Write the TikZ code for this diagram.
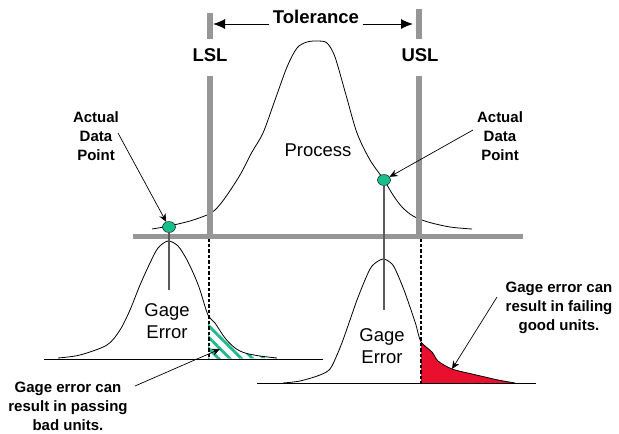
\documentclass[tikz,border=0pt]{standalone}
\usepackage{fontspec}
\setmainfont{Liberation Sans}
\usetikzlibrary{arrows.meta,shapes.geometric,patterns.meta}
\definecolor{bargray}{RGB}{150,150,150}
\definecolor{dotgreen}{RGB}{24,190,140}
\definecolor{hatchgreen}{RGB}{30,185,140}
\definecolor{badred}{RGB}{232,16,45}
\definecolor{stemgray}{RGB}{90,90,90}
\tikzset{
  grayBar/.style={draw=bargray,line width=6.5pt},
  curveLine/.style={draw=black,line width=0.8pt},
  baseLine/.style={draw=black,line width=0.9pt},
  dashLine/.style={draw=black,line width=1.1pt,dash pattern=on 3.5pt off 2pt},
  stemLine/.style={draw=stemgray,line width=1.4pt},
  dataDot/.style={ellipse,fill=dotgreen,draw=black,line width=0.4pt,minimum width=13pt,minimum height=11pt,inner sep=0pt},
  bigLabel/.style={font=\fontsize{18.5}{22}\selectfont\bfseries},
  plainLabel/.style={font=\fontsize{18.5}{22}\selectfont,align=center},
  noteLabel/.style={font=\fontsize{15}{19}\selectfont\bfseries,align=center},
  tolArrow/.style={draw=black,line width=1pt,-{Latex[length=12pt,width=10pt]}},
  noteArrow/.style={draw=black,line width=0.7pt,-{Stealth[length=8pt,width=7pt]}}
}
\begin{document}
\begin{tikzpicture}[x=1pt,y=-1pt]
\useasboundingbox[fill=white] (0,0) rectangle (619,434);

% fills
\fill[pattern={Lines[angle=-45,distance=8pt,line width=2.8pt]},pattern color=hatchgreen]
  (208,359) -- plot[smooth] coordinates {(208,315) (215,323) (225,338) (235,348) (245,353) (260,356) (277,358)} -- cycle;
\fill[badred]
  (421,383) -- plot[smooth] coordinates {(421,342) (432,352) (438,361) (452,369) (472,374) (485,377) (498,380) (515,383)} -- cycle;

% process curve
\draw[curveLine] plot[smooth] coordinates {(152,229) (169,226) (190,221) (207,215) (215,210) (225,198) (240,175) (252,152) (263,133) (275,100) (287,67) (297,48) (307,42) (318,41) (327,43) (335,57) (346,95) (357,133) (370,160) (384,180) (393,195) (402,207) (413,216) (428,222) (450,227) (472,229)};

% gage curves
\draw[curveLine] plot[smooth] coordinates {(58,358) (80,355) (107,345) (120,330) (130,310) (140,285) (150,263) (158,248) (168,241) (178,246) (187,260) (195,277) (200,290) (208,315) (215,323) (225,338) (235,348) (245,353) (260,356) (277,358)};
\draw[curveLine] plot[smooth] coordinates {(283,383) (300,381) (320,375) (330,369) (337,355) (343,340) (350,320) (357,300) (365,280) (372,266) (383,259) (392,264) (397,273) (404,290) (410,307) (416,325) (421,342) (432,352) (438,361) (452,369) (472,374) (485,377) (498,380) (515,383)};

% baselines
\coordinate (lb1) at (44,359); \coordinate (lb2) at (323,359);
\coordinate (rb1) at (257,383); \coordinate (rb2) at (536,383);
\draw[baseLine] (lb1) -- (lb2);
\draw[baseLine] (rb1) -- (rb2);

% dashed projections
\coordinate (ld1) at (209,238); \coordinate (ld2) at (209,359);
\coordinate (rd1) at (421,238); \coordinate (rd2) at (421,383);
\draw[dashLine] (ld1) -- (ld2);
\draw[dashLine] (rd1) -- (rd2);

% gray bars
\coordinate (lslA) at (210,13); \coordinate (lslB) at (210,39);
\coordinate (lslC) at (210,76); \coordinate (lslD) at (210,236);
\coordinate (uslA) at (419,9); \coordinate (uslB) at (419,39);
\coordinate (uslC) at (419,76); \coordinate (uslD) at (419,236);
\coordinate (hbA) at (133,236); \coordinate (hbB) at (523,236);
\draw[grayBar] (lslA) -- (lslB);
\draw[grayBar] (lslC) -- (lslD);
\draw[grayBar] (uslA) -- (uslB);
\draw[grayBar] (uslC) -- (uslD);
\draw[grayBar,line width=5pt] (hbA) -- (hbB);

% data points and stems
\node[dataDot] (ldot) at (169,227) {};
\node[dataDot] (rdot) at (384,180) {};
\coordinate (lstem) at (169,290);
\coordinate (rstem) at (384,310);
\draw[stemLine] (ldot.south) -- (lstem);
\draw[stemLine] (rdot.south) -- (rstem);

% labels
\node[bigLabel,anchor=base] (tol) at (316,23) {Tolerance};
\node[bigLabel] (lsl) at (210,55) {LSL};
\node[bigLabel] (usl) at (420,55) {USL};
\node[plainLabel] (proc) at (318,150) {Process};
\node[plainLabel] (lgage) at (167,321) {Gage\\Error};
\node[plainLabel] (rgage) at (382,346) {Gage\\Error};
\node[noteLabel] (lact) at (96,136) {Actual\\Data\\Point};
\node[noteLabel] (ract) at (500,136) {Actual\\Data\\Point};
\node[noteLabel] (lnote) at (68,406) {Gage error can\\result in passing\\bad units.};
\node[noteLabel] (rnote) at (559,308) {Gage error can\\result in failing\\good units.};

% tolerance arrows
\coordinate (tolL) at (213,24);
\coordinate (tolR) at (413,24);
\draw[tolArrow] ([yshift=-1pt]tol.base west) -- (tolL);
\draw[tolArrow] ([yshift=-1pt]tol.base east) -- (tolR);

% note arrows
\coordinate (la1) at (118,133);
\coordinate (ra1) at (473,130);
\draw[noteArrow] (la1) -- (ldot);
\draw[noteArrow] (ra1) -- (rdot);
\coordinate (lb0) at (135,386); \coordinate (lbt) at (220,349);
\coordinate (rb0) at (497,297); \coordinate (rbt) at (452,369);
\draw[noteArrow] (lb0) -- (lbt);
\draw[noteArrow] (rb0) -- (rbt);
\end{tikzpicture}
\end{document}
